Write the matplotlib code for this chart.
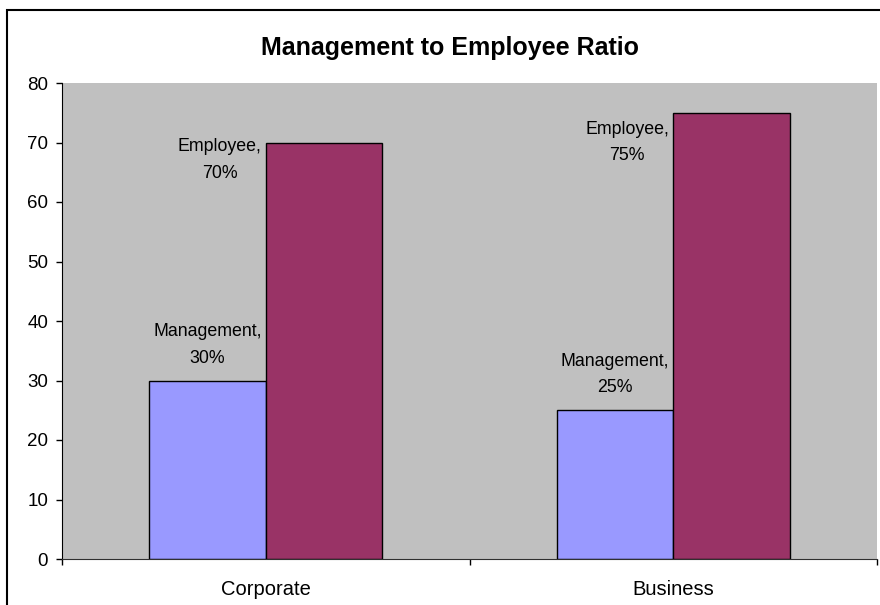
"""
Management to Employee Ratio - grouped bars, Excel-like look
"""

import matplotlib
matplotlib.use("Agg")
import matplotlib.pyplot as plt
import numpy as np
from matplotlib.patches import Rectangle

categories = ["Corporate", "Business"]
series_names = ["Management", "Employee"]
management = [30, 25]
employee = [70, 75]
y_ticks = [0, 10, 20, 30, 40, 50, 60, 70, 80]

plt.rcParams["font.family"] = ["Liberation Sans", "DejaVu Sans"]

fig = plt.figure(figsize=(8.8, 6.05), dpi=100)
fig.patch.set_facecolor("white")

# outer chart frame (cut off at right / bottom like the screenshot)
fig.patches.append(
    Rectangle((7 / 880, -0.2), 1.2, 0.2 + 1 - 10 / 605, transform=fig.transFigure,
              fill=False, edgecolor="black", linewidth=1.5)
)

ax = fig.add_axes([62 / 880, 1 - 559 / 605, (877 - 62) / 880, (559 - 83) / 605])
ax.set_facecolor("#C0C0C0")

x = np.arange(len(categories))
width = 1 / 1.75 / 2  # Excel gap width 75%

bars_m = ax.bar(x - width / 2, management, width, color="#9999FF",
                edgecolor="black", linewidth=1.0, zorder=3)
bars_e = ax.bar(x + width / 2, employee, width, color="#993366",
                edgecolor="black", linewidth=1.0, zorder=3)

ax.set_xlim(-0.5, len(categories) - 0.5)
ax.set_ylim(0, 80)
ax.set_yticks(y_ticks)
ax.tick_params(axis="y", direction="out", length=4, width=1, pad=6,
               labelsize=13.5)

# category boundaries as major ticks, names on minor ticks
ax.set_xticks(np.arange(len(categories) + 1) - 0.5)
ax.set_xticklabels([])
ax.set_xticks(x, minor=True)
ax.set_xticklabels(categories, minor=True, fontsize=14.5)
ax.tick_params(axis="x", which="major", direction="out", length=4, width=1)
ax.tick_params(axis="x", which="minor", length=0, pad=15)

for side in ["top", "right"]:
    ax.spines[side].set_visible(False)
ax.spines["left"].set_color("black")
ax.spines["bottom"].set_color("#303030")
ax.spines["bottom"].set_zorder(4)

# data labels
for bar, val in zip(bars_m, management):
    ax.annotate(f"{series_names[0]},\n{val}%",
                (bar.get_x() + bar.get_width() / 2, bar.get_height()),
                xytext=(0, 10), textcoords="offset points",
                ha="center", va="bottom", multialignment="center",
                fontsize=12.8, linespacing=1.72)

emp_offsets = [3, -6]
for bar, val, off in zip(bars_e, employee, emp_offsets):
    ax.annotate(f"{series_names[1]},\n{val}%",
                (bar.get_x(), bar.get_height()),
                xytext=(-3, off), textcoords="offset points",
                ha="right", va="top", multialignment="center",
                fontsize=12.8, linespacing=1.72)

fig.text(450 / 880, 1 - 55 / 605, "Management to Employee Ratio",
         ha="center", va="baseline", fontsize=18, fontweight="bold")

fig.savefig("out.png", dpi=100)
